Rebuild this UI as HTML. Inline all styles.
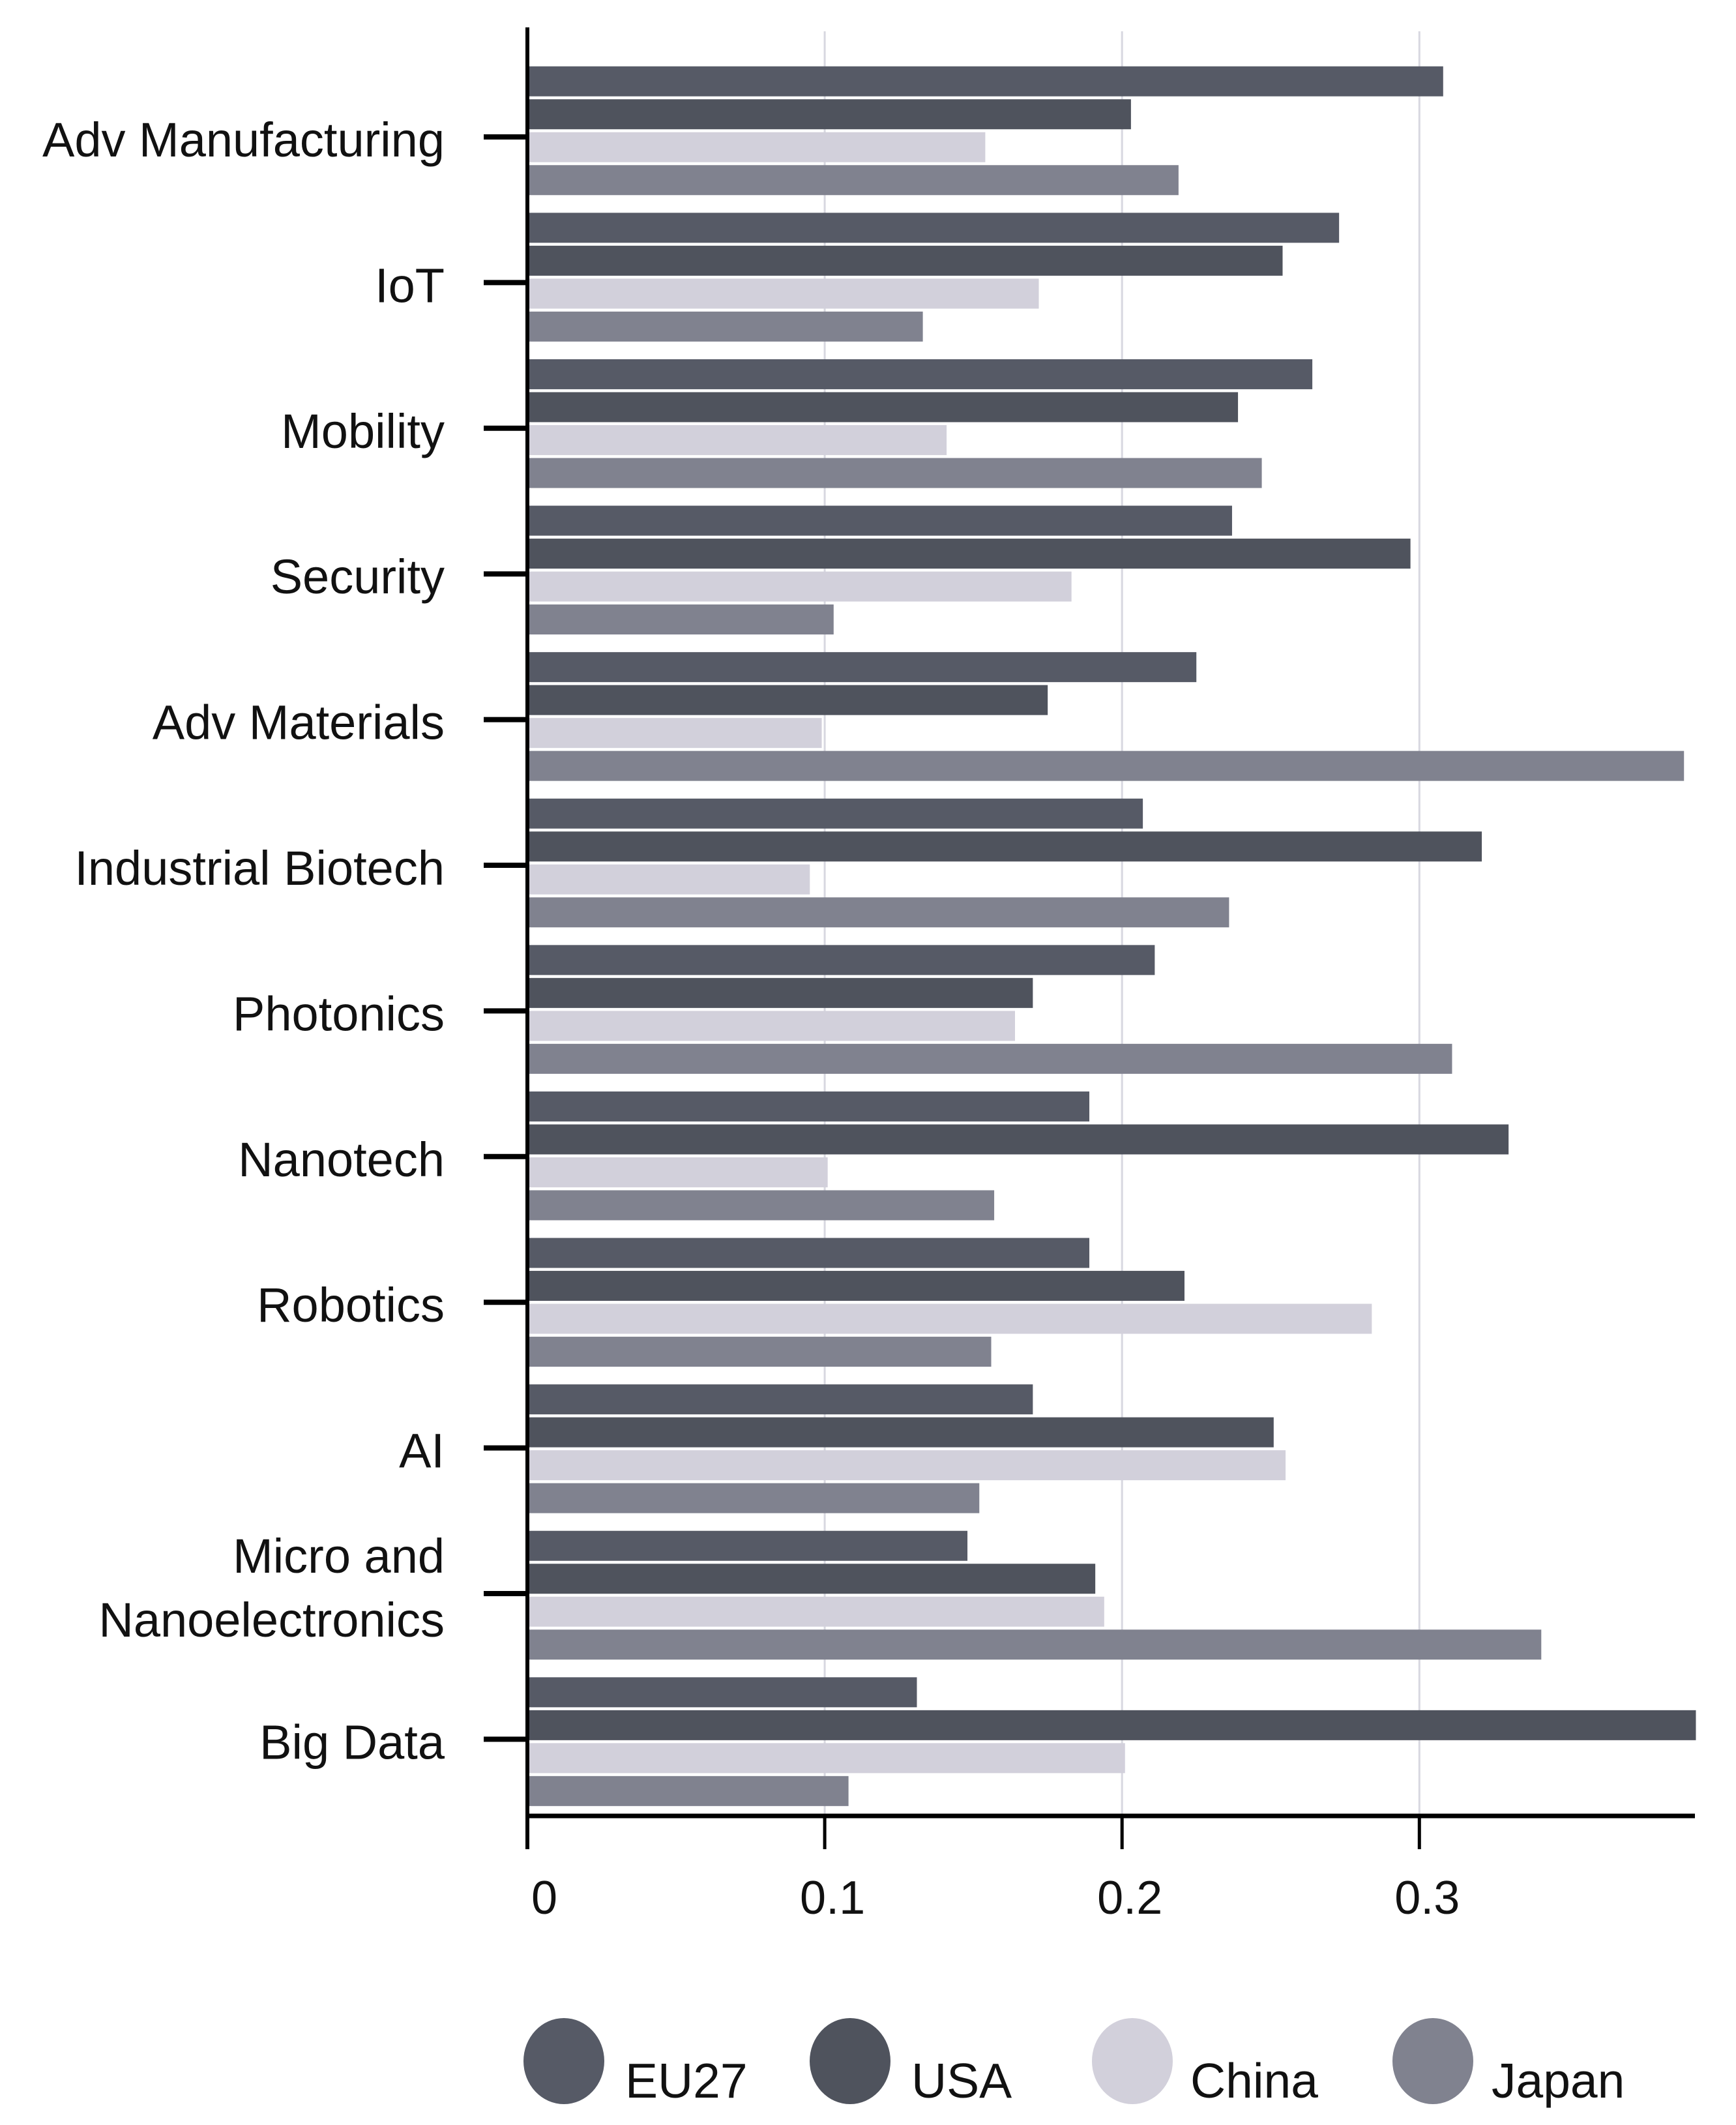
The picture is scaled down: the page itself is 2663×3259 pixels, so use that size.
<!DOCTYPE html>
<html><head><meta charset="utf-8"><style>
html,body{margin:0;padding:0;background:#fff}
svg{display:block}
text{font-family:"Liberation Sans",sans-serif;fill:#111}
</style></head><body>
<svg id="chart" width="2663" height="3259" viewBox="0 0 2663 3259" xmlns="http://www.w3.org/2000/svg">
<g id="grid"></g>
<g id="bars"></g>
<g id="axes"></g>
<g id="legend"></g>
</svg>
<script>
const categories = ["Adv Manufacturing","IoT","Mobility","Security","Adv Materials","Industrial Biotech","Photonics","Nanotech","Robotics","AI","Micro and Nanoelectronics","Big Data"];
const seriesNames = ["EU27","USA","China","Japan"];
const eu27 = [0.308,0.273,0.264,0.237,0.225,0.207,0.211,0.189,0.189,0.170,0.148,0.131];
const usa = [0.203,0.254,0.239,0.297,0.175,0.321,0.170,0.330,0.221,0.251,0.191,0.393];
const china = [0.154,0.172,0.141,0.183,0.099,0.095,0.164,0.101,0.284,0.255,0.194,0.201];
const japan = [0.219,0.133,0.247,0.103,0.389,0.236,0.311,0.157,0.156,0.152,0.341,0.108];
const xTicks = [0,0.1,0.2,0.3];
const xTickLabels = ["0","0.1","0.2","0.3"];

const colors = ["#565a66","#4f535d","#d2d0db","#80828f"];
const NS = "http://www.w3.org/2000/svg";
const X0 = 809, PX = 4561, AXTOP = 42, AXBOT = 2785, AXRIGHT = 2600;
const G0 = 200.5, GP = 224.6, BH = 46, BP = 50.5;
const T0 = 210, TP = 223.4;
function x(v){ return X0 + v*PX; }
function gy(i){ return G0 + i*GP; }
function ty(i){ return T0 + i*TP; }
function mk(tag, attrs, parent){
  const e = document.createElementNS(NS, tag);
  for (const k in attrs) e.setAttribute(k, attrs[k]);
  parent.appendChild(e); return e;
}
const grid = document.getElementById('grid'), barsG = document.getElementById('bars'),
      axes = document.getElementById('axes'), legend = document.getElementById('legend');

xTicks.forEach((t,i)=>{
  if (t === 0) return;
  const l = mk('line',{x1:x(t),x2:x(t),y1:AXTOP+6,y2:AXBOT,stroke:"#d8d8e0","stroke-width":3},grid);
  
  
});

const all = [eu27,usa,china,japan];
categories.forEach((c,i)=>{
  all.forEach((s,j)=>{
    const yc = gy(i) + (j-1.5)*BP;
    const r = mk('rect',{x:X0,y:yc-BH/2,width:x(s[i])-X0,height:BH,fill:colors[j]},barsG);
    
    
  });
  const tk = mk('line',{x1:742,x2:X0,y1:ty(i),y2:ty(i),stroke:"#000","stroke-width":8},axes);
  
  
  if (c === "Micro and Nanoelectronics"){
    const a = mk('text',{x:682,y:ty(i)-32,"text-anchor":"end","font-size":74},axes);
    a.textContent = "Micro and";
    
    
    const b = mk('text',{x:682,y:ty(i)+66,"text-anchor":"end","font-size":74},axes);
    b.textContent = "Nanoelectronics";
    
    
  } else {
    const t = mk('text',{x:682,y:ty(i)+30,"text-anchor":"end","font-size":74},axes);
    t.textContent = c;
    
    
  }
});

const ya = mk('line',{x1:X0,x2:X0,y1:AXTOP,y2:2836,stroke:"#000","stroke-width":6},axes);


const xa = mk('line',{x1:X0,x2:AXRIGHT,y1:AXBOT,y2:AXBOT,stroke:"#000","stroke-width":7},axes);


xTicks.forEach((t,i)=>{
  const l = mk('line',{x1:x(t),x2:x(t),y1:AXBOT,y2:2836,stroke:"#000","stroke-width":5},axes);
  
  
  const tx = mk('text',{x:x(t)+(t===0?26:12),y:2935,"text-anchor":"middle","font-size":72},axes);
  tx.textContent = xTickLabels[i];
  
  
});

const lcx = [865,1304,1737,2198], ltx = [959,1398,1826,2288];
seriesNames.forEach((n,j)=>{
  const e = mk('ellipse',{cx:lcx[j],cy:3161,rx:62,ry:66,fill:colors[j]},legend);
  
  
  const t = mk('text',{x:ltx[j],y:3217,"font-size":75},legend);
  t.textContent = n;
  
  
});
</script>
</body></html>
